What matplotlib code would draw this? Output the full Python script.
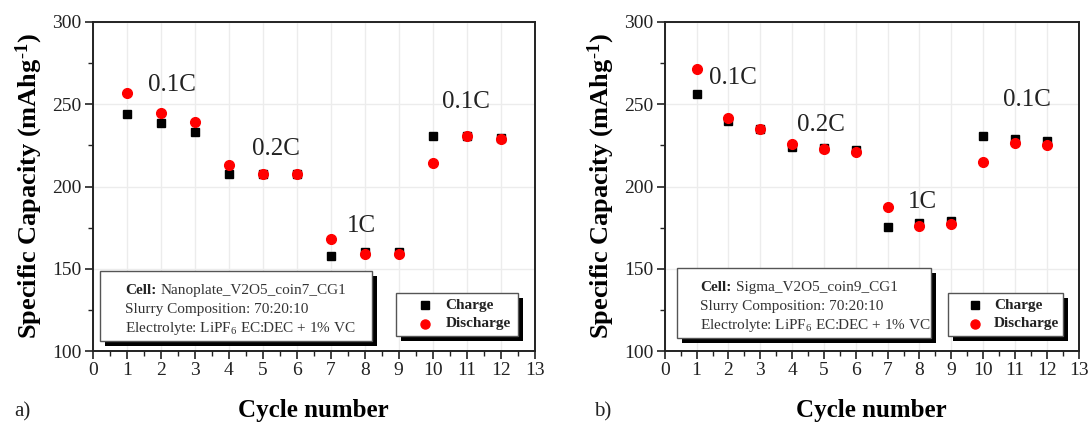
import matplotlib
matplotlib.use("Agg")
import matplotlib.pyplot as plt
from matplotlib.patches import Rectangle
from matplotlib.transforms import ScaledTranslation
from matplotlib.ticker import MultipleLocator

plt.rcParams['font.family'] = ['Liberation Serif', 'DejaVu Serif']
plt.rcParams['mathtext.fontset'] = 'custom'
plt.rcParams['mathtext.rm'] = 'Liberation Serif'
plt.rcParams['mathtext.bf'] = 'Liberation Serif:bold'
plt.rcParams['mathtext.it'] = 'Liberation Serif:italic'

cycles = [1, 2, 3, 4, 5, 6, 7, 8, 9, 10, 11, 12]

charge_a = [243.9, 238.5, 233.4, 207.5, 207.9, 207.5, 157.9, 159.9, 160.0, 230.8, 231.0, 229.6]
discharge_a = [256.7, 244.5, 239.3, 213.0, 207.9, 207.3, 168.1, 158.7, 158.7, 214.0, 230.5, 228.8]

charge_b = [256.0, 239.8, 235.0, 224.2, 223.4, 221.9, 175.3, 177.8, 179.2, 230.6, 229.1, 227.9]
discharge_b = [271.6, 241.7, 235.0, 226.0, 222.5, 220.7, 187.7, 175.8, 177.2, 214.9, 226.6, 225.2]

rate_labels = ["0.1C", "0.2C", "1C", "0.1C"]
rate_pos_a = [(2.32, 261.5), (5.39, 222.9), (7.9, 175.7), (10.97, 251.6)]
rate_pos_b = [(2.14, 266.0), (4.89, 237.5), (8.08, 190.5), (11.39, 252.5)]

cell_a = "Nanoplate_V2O5_coin7_CG1"
cell_b = "Sigma_V2O5_coin9_CG1"
slurry = "Slurry Composition: 70:20:10"
electrolyte = r"Electrolyte: LiPF$_6$ EC:DEC + 1% VC"
panel_labels = ["a)", "b)"]

W, H = 1089, 430
fig = plt.figure(figsize=(W / 100, H / 100), dpi=100)

ax_a = fig.add_axes([92.7 / W, 1 - 351 / H, 442 / W, 329 / H])
ax_b = fig.add_axes([664.8 / W, 1 - 351 / H, 413.8 / W, 329 / H])

def box(ax, x0, y0, x1, y1):
    shadow_tr = ax.transAxes + ScaledTranslation(5 / 100, -5 / 100, fig.dpi_scale_trans)
    ax.add_patch(Rectangle((x0, y0), x1 - x0, y1 - y0, transform=shadow_tr,
                           facecolor='black', edgecolor='black', lw=0, zorder=5))
    ax.add_patch(Rectangle((x0, y0), x1 - x0, y1 - y0, transform=ax.transAxes,
                           facecolor='white', edgecolor='#555555', lw=1.0, zorder=6))

def setup(ax, charge, discharge, rate_pos, cell, info_box, leg_box):
    ax.set_xlim(0, 13)
    ax.set_ylim(100, 300)
    ax.xaxis.set_major_locator(MultipleLocator(1))
    ax.xaxis.set_minor_locator(MultipleLocator(0.5))
    ax.yaxis.set_major_locator(MultipleLocator(50))
    ax.yaxis.set_minor_locator(MultipleLocator(25))
    ax.grid(True, which='major', color='#ececec', lw=1.0, zorder=0)
    ax.set_axisbelow(True)
    for s in ax.spines.values():
        s.set_color('#222222')
        s.set_linewidth(1.4)
    ax.tick_params(which='major', direction='out', length=6, width=1.2,
                   labelsize=14, colors='#222222', pad=2)
    ax.tick_params(which='minor', direction='out', length=3.5, width=1.0, colors='#222222')
    ax.tick_params(top=False, right=False, which='both')

    ax.plot(cycles, charge, ls='none', marker='s', ms=6, color='black', zorder=3)
    ax.plot(cycles, discharge, ls='none', marker='o', ms=7, color='#ff0000', zorder=4)

    for lab, (x, y) in zip(rate_labels, rate_pos):
        ax.text(x, y, lab, fontsize=18, ha='center', va='center', color='#222222', zorder=4)

    ax.set_xlabel("Cycle number", fontsize=18, fontweight='bold', labelpad=14)
    ax.set_ylabel(r"Specific Capacity (mAhg$^{\mathbf{\text{-}1}}$)", fontsize=19,
                  fontweight='bold', labelpad=5)

    x0, y0, x1, y1 = info_box
    box(ax, x0, y0, x1, y1)
    tx = x0 + 0.057
    lines_y = [y0 + (y1 - y0) * f for f in (0.72, 0.45, 0.18)]
    t = ax.text(tx, lines_y[0], "Cell:", transform=ax.transAxes, fontsize=11,
                fontweight='bold', va='center', ha='left', color='#222222', zorder=7)
    ax.annotate(cell, xy=(1, 0), xycoords=t, xytext=(3, 0), textcoords='offset points',
                fontsize=11, va='bottom', ha='left', color='#333333', zorder=7)
    ax.text(tx, lines_y[1], slurry, transform=ax.transAxes, fontsize=11,
            va='center', ha='left', color='#333333', zorder=7)
    ax.text(tx, lines_y[2], electrolyte, transform=ax.transAxes, fontsize=11,
            va='center', ha='left', color='#333333', zorder=7)

    lx0, ly0, lx1, ly1 = leg_box
    box(ax, lx0, ly0, lx1, ly1)
    mx = lx0 + 0.065
    rows = [ly0 + (ly1 - ly0) * 0.72, ly0 + (ly1 - ly0) * 0.28]
    ax.plot([mx], [rows[0]], marker='s', ms=5.5, color='black', ls='none',
            transform=ax.transAxes, zorder=7, clip_on=False)
    ax.plot([mx], [rows[1]], marker='o', ms=6.5, color='#ff0000', ls='none',
            transform=ax.transAxes, zorder=7, clip_on=False)
    ax.text(mx + 0.047, rows[0], "Charge", transform=ax.transAxes, fontsize=11,
            fontweight='bold', va='center', ha='left', color='#222222', zorder=7)
    ax.text(mx + 0.047, rows[1], "Discharge", transform=ax.transAxes, fontsize=11,
            fontweight='bold', va='center', ha='left', color='#222222', zorder=7)

setup(ax_a, charge_a, discharge_a, rate_pos_a, cell_a,
      (0.0165, 0.031, 0.631, 0.244), (0.686, 0.046, 0.963, 0.175))
setup(ax_b, charge_b, discharge_b, rate_pos_b, cell_b,
      (0.0288, 0.039, 0.6426, 0.251), (0.684, 0.046, 0.962, 0.175))

fig.text(14 / W, 1 - 412 / H, panel_labels[0], fontsize=15, va='center', ha='left', color='#222222')
fig.text(594 / W, 1 - 412 / H, panel_labels[1], fontsize=15, va='center', ha='left', color='#222222')

fig.savefig("out.png", dpi=100)
